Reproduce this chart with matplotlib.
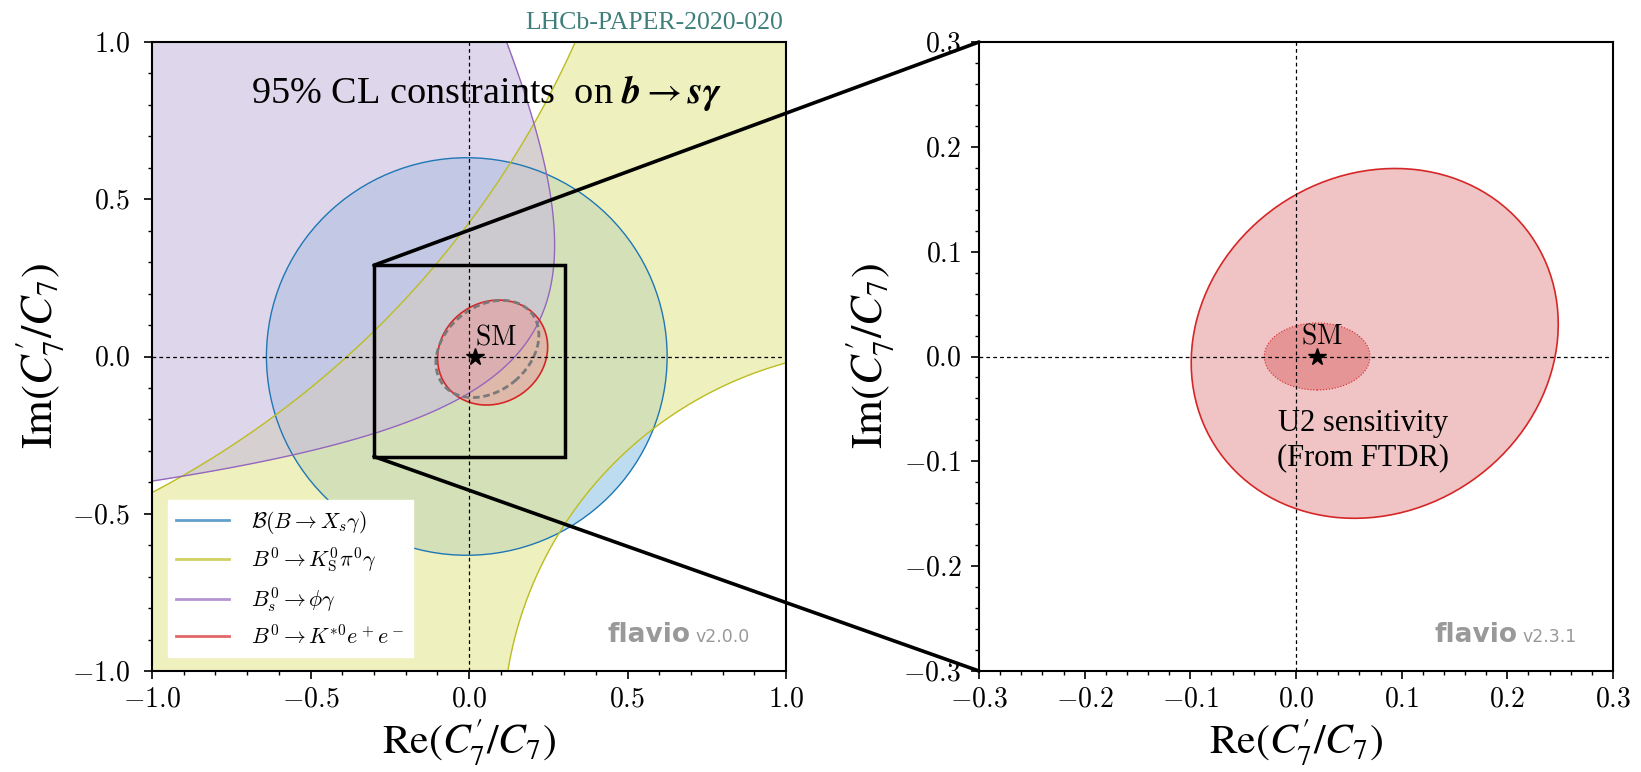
import numpy as np
import matplotlib
matplotlib.use("Agg")
import matplotlib.pyplot as plt
from matplotlib.patches import Circle, Ellipse, Rectangle, ConnectionPatch
from matplotlib.lines import Line2D
from matplotlib.ticker import MultipleLocator, FormatStrFormatter

plt.rcParams["mathtext.fontset"] = "cm"
plt.rcParams["font.family"] = ["Liberation Serif", "DejaVu Serif"]

# B -> Xs gamma branching ratio: circle around the origin
xsg_center = (-0.007, 0.0)
xsg_radius = 0.632

# B0 -> KS pi0 gamma: points along the two edges of the allowed band
kspi_upper_x = [0.329, 0.206, -0.018, -0.097, -0.302, -0.438, -0.613, -1.0]
kspi_upper_y = [1.0, 0.724, 0.401, 0.301, 0.083, -0.045, -0.186, -0.436]
kspi_lower_x = [1.0, 0.847, 0.587, 0.369, 0.271, 0.171, 0.123]
kspi_lower_y = [-0.019, -0.075, -0.224, -0.455, -0.564, -0.813, -0.994]

# Bs -> phi gamma: points along the edge of the allowed region
phig_x = [0.118, 0.205, 0.256, 0.274, 0.261, 0.224, 0.161, 0.135, 0.066, -0.007, -0.115, -0.281, -0.555, -1.0]
phig_y = [1.0, 0.73, 0.561, 0.401, 0.274, 0.146, 0.030, 0.0, -0.087, -0.130, -0.178, -0.236, -0.31, -0.397]

# B0 -> K*0 e+ e- contour
kee_center = (0.0745, 0.0125)
kee_width, kee_height, kee_angle = 0.360, 0.320, 35

# earlier K*ee contour (dashed)
prev_center = (0.058, 0.024)
prev_width, prev_height, prev_angle = 0.360, 0.267, 40

# Upgrade II sensitivity
u2_center = (0.02, 0.0)
u2_width, u2_height = 0.100, 0.064

sm_point = (0.02, 0.0)
zoom_box_x = (-0.30, 0.303)
zoom_box_y = (-0.318, 0.29)

legend_labels = [r"$\mathcal{B}(B\to X_s\gamma)$",
                 r"$B^0\to K^0_{\rm S}\pi^0\gamma$",
                 r"$B^0_s\to \phi\gamma$",
                 r"$B^0\to K^{*0}e^+e^-$"]

# line colours and (lighter) fill colours
c_blue, c_olive, c_purple, c_red = "#1f77b4", "#bcbd22", "#9467bd", "#d62728"
f_blue, f_olive, f_purple, f_red = "#93c5e6", "#e3e693", "#c8bbde", "#e69d9e"
f_u2 = "#df7777"
fill_alpha = 0.6


def fit_circle(x, y):
    x = np.asarray(x, float)
    y = np.asarray(y, float)
    A = np.column_stack([x, y, np.ones_like(x)])
    D, E, F = np.linalg.lstsq(A, -(x ** 2 + y ** 2), rcond=None)[0]
    cx, cy = -D / 2, -E / 2
    return cx, cy, np.sqrt(cx ** 2 + cy ** 2 - F)


def fit_conic(x, y):
    x = np.asarray(x, float)
    y = np.asarray(y, float)
    M = np.column_stack([x * x, x * y, y * y, x, y, np.ones_like(x)])
    return np.linalg.svd(M)[2][-1]


def conic(c, X, Y):
    return c[0] * X * X + c[1] * X * Y + c[2] * Y * Y + c[3] * X + c[4] * Y + c[5]


def style_axes(ax, lim, major, minor, ypad, ylab_x):
    ax.set_xlim(-lim, lim)
    ax.set_ylim(-lim, lim)
    ax.xaxis.set_major_locator(MultipleLocator(major))
    ax.yaxis.set_major_locator(MultipleLocator(major))
    ax.xaxis.set_minor_locator(MultipleLocator(minor))
    ax.yaxis.set_minor_locator(MultipleLocator(minor))
    ax.xaxis.set_major_formatter(FormatStrFormatter("$%.1f$"))
    ax.yaxis.set_major_formatter(FormatStrFormatter("$%.1f$"))
    ax.tick_params(which="major", length=5.8, width=1.2, labelsize=20)
    ax.tick_params(axis="x", which="major", pad=6)
    ax.tick_params(axis="y", which="major", pad=ypad)
    ax.tick_params(which="minor", length=3.2, width=1.0)
    for s in ax.spines.values():
        s.set_linewidth(1.5)
    ax.axhline(0, color="k", lw=0.9, ls=(0, (3, 2.5)), zorder=3)
    ax.axvline(0, color="k", lw=0.9, ls=(0, (3, 2.5)), zorder=3)
    ax.set_xlabel(r"$\mathrm{Re}(C^{\prime}_7/C_7)$", fontsize=30, math_fontfamily="stix")
    ax.set_ylabel(r"$\mathrm{Im}(C^{\prime}_7/C_7)$", fontsize=32, math_fontfamily="stix")
    ax.xaxis.label.set_verticalalignment("center")
    ax.yaxis.label.set_verticalalignment("center")
    ax.xaxis.set_label_coords(0.5, -0.1145)
    ax.yaxis.set_label_coords(ylab_x, 0.5)


def watermark(ax, version):
    ax.text(0.849, 0.046, "flavio", transform=ax.transAxes, ha="right", va="baseline",
            family="DejaVu Sans", weight="bold", fontsize=19, color="#999999")
    ax.text(0.858, 0.046, version, transform=ax.transAxes, ha="left", va="baseline",
            family="DejaVu Sans", fontsize=12.5, color="#999999")


fig = plt.figure(figsize=(16.41, 7.72), dpi=100)
ax1 = fig.add_axes([152 / 1641, 1 - 671 / 772, 634 / 1641, 629 / 772])
ax2 = fig.add_axes([979 / 1641, 1 - 671 / 772, 634 / 1641, 629 / 772])

# left panel: current constraints
g = np.linspace(-1.02, 1.02, 900)
X, Y = np.meshgrid(g, g)

ax1.add_patch(Circle(xsg_center, xsg_radius, fc=f_blue, alpha=fill_alpha, ec="none", zorder=1))
ax1.add_patch(Circle(xsg_center, xsg_radius, fc="none", ec=c_blue, lw=1.0, zorder=2))

ua = fit_circle(kspi_upper_x, kspi_upper_y)
lb = fit_circle(kspi_lower_x, kspi_lower_y)
band = np.minimum(np.hypot(X - ua[0], Y - ua[1]) - ua[2], np.hypot(X - lb[0], Y - lb[1]) - lb[2])
ax1.contourf(X, Y, band, levels=[0, band.max()], colors=[f_olive], alpha=fill_alpha, zorder=1.1)
ax1.contour(X, Y, band, levels=[0], colors=[c_olive], linewidths=1.0, zorder=2)

pc = fit_conic(phig_x, phig_y)
if conic(pc, -1.0, 1.0) < 0:
    pc = -pc
phi = conic(pc, X, Y)
ax1.contourf(X, Y, phi, levels=[0, phi.max()], colors=[f_purple], alpha=fill_alpha, zorder=1.2)
ax1.contour(X, Y, phi, levels=[0], colors=[c_purple], linewidths=1.0, zorder=2)

ax1.add_patch(Ellipse(kee_center, kee_width, kee_height, angle=kee_angle,
                      fc=f_red, alpha=fill_alpha, ec="none", zorder=1.5))
ax1.add_patch(Ellipse(kee_center, kee_width, kee_height, angle=kee_angle,
                      fc="none", ec=c_red, lw=1.2, zorder=2))
ax1.add_patch(Ellipse(prev_center, prev_width, prev_height, angle=prev_angle,
                      fc="none", ec="#7a7a7a", lw=2.0, ls=(0, (2.4, 1.3)), zorder=2.5))

ax1.plot(*sm_point, marker="*", ms=13, color="k", zorder=5)
ax1.text(0.019, 0.038, r"$\mathrm{SM}$", fontsize=20, zorder=5)

ax1.add_patch(Rectangle((zoom_box_x[0], zoom_box_y[0]), zoom_box_x[1] - zoom_box_x[0],
                        zoom_box_y[1] - zoom_box_y[0], fill=False, ec="k", lw=2.5, zorder=6))

ax1.text(0.055, 0.806, r"95% CL constraints  on $\mathbfit{b} \to \mathbfit{s\gamma}$", ha="center",
         va="baseline", fontsize=27.5, math_fontfamily="stix", zorder=6)

handles = [Line2D([], [], color=c, lw=2, alpha=0.7) for c in (c_blue, c_olive, c_purple, c_red)]
leg = ax1.legend(handles, legend_labels, loc="lower left", bbox_to_anchor=(0.0245, 0.022),
                 borderaxespad=0, fontsize=15.8, frameon=True, fancybox=False, framealpha=1,
                 edgecolor="white", handlelength=2.4, handletextpad=1.0, labelspacing=0.45)
leg.set_zorder(7)
watermark(ax1, "v2.0.0")
style_axes(ax1, 1.0, 0.5, 0.1, 10.0, -0.1767)

# right panel: upgrade II projection
ax2.add_patch(Ellipse(kee_center, kee_width, kee_height, angle=kee_angle,
                      fc=f_red, alpha=fill_alpha, ec="none", zorder=1))
ax2.add_patch(Ellipse(kee_center, kee_width, kee_height, angle=kee_angle,
                      fc="none", ec=c_red, lw=1.2, zorder=2))
ax2.add_patch(Ellipse(u2_center, u2_width, u2_height, fc=f_u2, alpha=fill_alpha, ec="none", zorder=1.5))
ax2.add_patch(Ellipse(u2_center, u2_width, u2_height, fc="none", ec=c_red, lw=0.8, ls=":", zorder=2))
ax2.plot(*sm_point, marker="*", ms=13, color="k", zorder=5)
ax2.text(0.005, 0.012, r"$\mathrm{SM}$", fontsize=20, zorder=5)
ax2.text(0.0634, -0.080, "U2 sensitivity\n(From FTDR)", ha="center", va="center",
         fontsize=22, linespacing=1.25, zorder=5)
watermark(ax2, "v2.3.1")
style_axes(ax2, 0.3, 0.1, 0.02, 7.0, -0.1735)

# zoom lines from the box to the right panel
for yb, yt in ((zoom_box_y[1], 0.3), (zoom_box_y[0], -0.3)):
    con = ConnectionPatch(xyA=(zoom_box_x[0], yb), coordsA=ax1.transData,
                          xyB=(-0.3, yt), coordsB=ax2.transData, color="k", lw=2.6, zorder=10)
    fig.add_artist(con)

fig.text(783 / 1641, 1 - 29 / 772, "LHCb-PAPER-2020-020", ha="right", va="baseline",
         fontsize=18.5, color="#3f7f7b")

fig.savefig("out.png", dpi=100)
